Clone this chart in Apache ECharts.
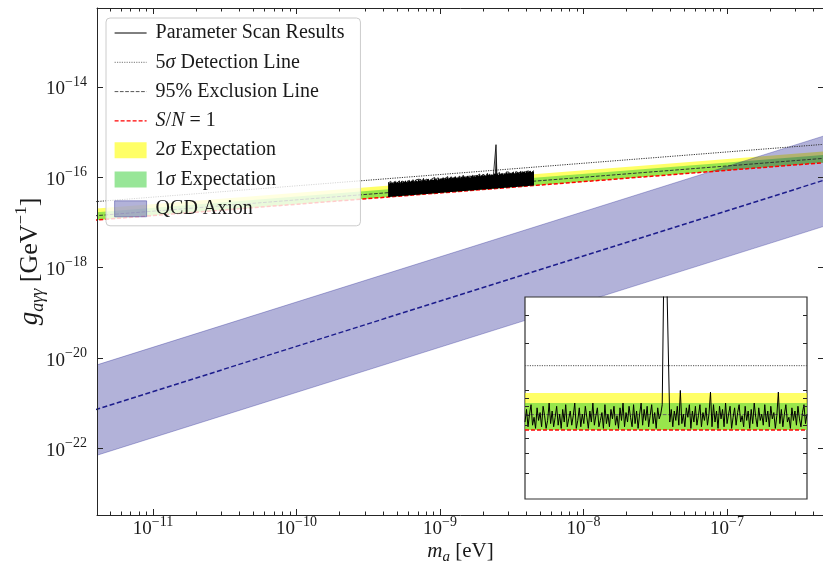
<!DOCTYPE html>
<html><head><meta charset="utf-8">
<script src="https://cdn.jsdelivr.net/npm/echarts@6/dist/echarts.min.js"></script>
<style>html,body{margin:0;padding:0;background:#fff}#c{width:823px;height:572px}</style>
</head><body><div id="c"></div>
<script>
// ---------------- data ----------------
// straight (log-log) reference lines, given at their two end masses
const lineMass     = [1e-12, 1e-6];          // eV
const detect5Sigma = [2.05e-17, 6.47e-16];   // GeV^-1
const exclusion95  = [1.00e-17, 3.17e-16];
const snOne        = [8.02e-18, 2.54e-16];
const sigma2Upper  = [1.43e-17, 4.52e-16];
const sigma1Upper  = [1.19e-17, 3.75e-16];
// QCD axion band
const qcdMass   = [1e-12, 1e-6];
const qcdUpper  = [1.74e-21, 1.74e-15];
const qcdCenter = [1.82e-22, 1.82e-16];
const qcdLower  = [1.74e-23, 1.74e-17];
// parameter scan: mass range and excess above S/N=1 (decades)
const scanMassRange = [4.35e-10, 4.52e-9];
const scanExcess = [
0.31,0.33,0.29,0.34,0.30,0.32,0.28,0.33,0.31,0.35,
0.29,0.32,0.30,0.34,0.28,0.31,0.33,0.29,0.32,0.30,
0.34,0.31,0.28,0.33,0.30,0.35,0.29,0.32,0.31,0.34,
0.30,0.28,0.33,0.31,0.29,0.34,0.32,0.30,0.33,0.28,
0.31,0.35,0.30,0.32,0.29,0.33,0.31,0.34,0.28,0.32,
0.30,0.33,0.29,0.31,0.35,0.30,0.32,0.28,0.34,0.31,
0.29,0.33,0.30,0.32,0.34,0.29,0.31,0.33,0.30,0.35,
0.28,0.32,0.31,0.34,0.29,0.33,0.30,0.32,0.35,0.31,
0.29,0.33,0.30,0.34,0.28,0.32,0.31,0.35,0.30,0.33,
0.29,0.31,0.34,0.30,0.32,0.28,0.33,0.31,0.35,0.30,
0.32,0.29,0.34,0.31,0.33,0.30,0.35,0.28,0.32,0.31,
0.34,0.30,0.33,0.29,0.31,0.35,0.30,0.32,0.34,0.29,
0.33,0.31,0.30,0.34,0.32,0.97,0.31,0.33,0.29,0.35,
0.30,0.32,0.34,0.31,0.29,0.33,0.30,0.35,0.32,0.31,
0.34,0.29,0.33,0.30,0.32,0.35,0.31,0.28,0.34,0.30,
0.33,0.31,0.29,0.35,0.32,0.30,0.34,0.31,0.33,0.29,
0.32,0.35,0.30,0.33,0.31,0.34,0.29,0.32,0.30,0.33];
// inset (zoom around the candidate): levels and scan excess above S/N=1 (decades)
const insetSnOne = 5.64e-17, insetExcl95 = 7.05e-17, insetSigma1 = 8.34e-17,
      insetSigma2 = 9.66e-17, insetDetect5 = 1.44e-16;
const insetYRange = [2.06e-17, 3.92e-16];
const insetExcess = [
0.05,0.13,0.02,0.10,0.16,0.03,0.08,0.01,0.14,0.06,
0.11,0.02,0.15,0.09,0.01,0.06,0.17,0.04,0.12,0.02,
0.08,0.15,0.03,0.10,0.01,0.13,0.05,0.16,0.02,0.07,
0.12,0.03,0.09,0.17,0.01,0.06,0.14,0.02,0.10,0.04,
0.15,0.08,0.01,0.12,0.05,0.17,0.03,0.09,0.14,0.02,
0.06,0.11,0.01,0.16,0.04,0.10,0.02,0.13,0.07,0.15,
0.03,0.09,0.01,0.14,0.06,0.17,0.02,0.11,0.05,0.15,
0.08,0.02,0.16,0.04,0.12,0.01,0.10,0.17,0.03,0.13,
0.06,0.15,0.02,0.09,0.16,0.04,0.11,0.01,0.14,0.07,
0.10,0.16,0.97,0.97,0.97,0.97,0.05,0.13,0.02,0.12,
0.06,0.15,0.03,0.25,0.04,0.10,0.02,0.14,0.08,0.16,
0.01,0.12,0.05,0.15,0.03,0.09,0.16,0.02,0.11,0.06,
0.14,0.03,0.10,0.24,0.02,0.16,0.05,0.12,0.01,0.15,
0.07,0.13,0.02,0.17,0.04,0.10,0.15,0.01,0.08,0.14,
0.03,0.11,0.16,0.05,0.09,0.02,0.15,0.06,0.12,0.01,
0.13,0.04,0.17,0.08,0.02,0.14,0.06,0.10,0.03,0.16,
0.05,0.12,0.02,0.15,0.07,0.11,0.01,0.09,0.24,0.04,
0.13,0.02,0.10,0.16,0.05,0.08,0.01,0.14,0.06,0.12,
0.03,0.15,0.07,0.02,0.11,0.16,0.04,0.10];
const insetTickValues = [3e-17,4e-17,5e-17,6e-17,7e-17,8e-17,9e-17,1e-16,2e-16,3e-16];
// axes
const xRangeMass = [4.074e-12, 4.742e-7];
const yRangeG = [3.38e-24, 5.57e-13];
const xTickExp = [-11,-10,-9,-8,-7];
const yTickExp = [-14,-16,-18,-20,-22];

// ---------------- build ----------------
const lg = Math.log10;
const SERIF = "'Liberation Serif','Times New Roman',serif";
const INK = '#1a1a1a';
const AX = {color:'#262626', width:1};

function pts(ms, vs){ return ms.map((m,i)=>[lg(m), lg(vs[i])]); }
function onLine(ms, vs, m){ // the straight log-log line through the two read points
  const a=lg(ms[0]), b=lg(ms[1]); return lg(vs[0]) + (lg(vs[1])-lg(vs[0]))*(lg(m)-a)/(b-a);
}
const xMin=lg(xRangeMass[0]), xMax=lg(xRangeMass[1]);
const yMin=lg(yRangeG[0]), yMax=lg(yRangeG[1]);
const xMinor=[];
for(let e=-12;e<=-7;e++) for(let k=2;k<=9;k++){ const v=e+lg(k); if(v>xMin&&v<xMax) xMinor.push(v); }

const nScan = scanExcess.length;
const scanMass = scanExcess.map((_,i)=>10**(lg(scanMassRange[0])+(lg(scanMassRange[1])-lg(scanMassRange[0]))*i/(nScan-1)));
const scanBase = scanMass.map(m=>onLine(lineMass, snOne, m));
const scanTop = scanBase.map((b,i)=>b+scanExcess[i]);
const nIn = insetExcess.length;

// a filled region between two curves, drawn through the axes' own scales (api.coord)
function fillSeries(name, rows, color, z, xi, yi, stroke){
  return {type:'custom', name, silent:true, xAxisIndex:xi, yAxisIndex:yi, z, color,
    data: rows, encode:{x:0, y:[1,2]},
    renderItem(params, api){
      if (params.dataIndex !== 0) return null;
      const top = rows.map(r=>api.coord([r[0], r[2]]));
      const bot = rows.map(r=>api.coord([r[0], r[1]])).reverse();
      const cs = params.coordSys;
      return {type:'polygon', shape:{points: top.concat(bot)},
        style:{fill: color, stroke: stroke || null, lineWidth: stroke ? 1 : 0},
        clipPath:{type:'rect', shape:{x:cs.x, y:cs.y, width:cs.width, height:cs.height}}};
    }};
}
const band = (ms, lo, hi) => ms.map((m,i)=>[lg(m), lg(lo[i]), lg(hi[i])]);

const M = {type:'line', symbol:'none', silent:true, xAxisIndex:0, yAxisIndex:0};
const I = {type:'line', symbol:'none', silent:true, xAxisIndex:4, yAxisIndex:2};
const YEL='rgba(255,255,0,0.6)', GRN='rgba(50,205,50,0.5)', QCD='rgba(0,0,128,0.3)';
const flat = v => [[0, lg(v)], [nIn-1, lg(v)]];
const flatBand = (lo, hi) => [[0, lg(lo), lg(hi)], [nIn-1, lg(lo), lg(hi)]];

const series = [
  fillSeries('2σ Expectation', band(lineMass, snOne, sigma2Upper), YEL, 2, 0, 0),
  fillSeries('1σ Expectation', band(lineMass, snOne, sigma1Upper), GRN, 3, 0, 0),
  fillSeries('QCD Axion', band(qcdMass, qcdLower, qcdUpper), QCD, 4, 0, 0, 'rgba(0,0,128,0.28)'),
  {...M, name:'_qc', data:pts(qcdMass, qcdCenter), lineStyle:{color:'#1c1c8c', width:1.5, type:[5,2.5]}, z:5},
  {...M, name:'5σ Detection Line', color:'#333', data:pts(lineMass, detect5Sigma), lineStyle:{color:'#333', width:1, type:[1.2,1.2]}, z:5},
  {...M, name:'95% Exclusion Line', color:'#333', data:pts(lineMass, exclusion95), lineStyle:{color:'#333', width:1, type:[3.7,1.6]}, z:5},
  {...M, name:'S/N = 1', color:'#ff0000', data:pts(lineMass, snOne), lineStyle:{color:'#ff0000', width:1.5, type:[4,2]}, z:5},
  fillSeries('_scanfill', scanMass.map((m,i)=>[lg(m), scanBase[i], scanTop[i]]), '#000', 6, 0, 0),
  {...M, name:'Parameter Scan Results', color:'#000', data:scanMass.map((m,i)=>[lg(m), scanTop[i]]), lineStyle:{color:'#000', width:0.8}, z:6},
  // inset
  fillSeries('_i2', flatBand(insetSnOne, insetSigma2), YEL, 11, 4, 2),
  fillSeries('_i1', flatBand(insetSnOne, insetSigma1), GRN, 12, 4, 2),
  {...I, name:'_i5', data:flat(insetDetect5), lineStyle:{color:'#555', width:1, type:[1.2,1.2]}, z:13},
  {...I, name:'_i95', data:flat(insetExcl95), lineStyle:{color:'#666', width:1, type:[3.7,1.6]}, z:13},
  {...I, name:'_isn', data:flat(insetSnOne), lineStyle:{color:'#ff0000', width:1.5, type:[4,2]}, z:13},
  {...I, name:'_iscan', data:insetExcess.map((e,i)=>[i, lg(insetSnOne)+e]), lineStyle:{color:'#000', width:1}, z:14}
];

const tickRich = {
  b:{fontFamily:SERIF, fontSize:19, color:INK, lineHeight:24, verticalAlign:'bottom'},
  e:{fontFamily:SERIF, fontSize:14, color:INK, lineHeight:14, verticalAlign:'top'}
};
const tickFmt = v => '{b|10}{e|\u2212' + Math.abs(Math.round(v)) + '}';
const noSplit = {show:false};

const xAxis = [
  {type:'value', gridIndex:0, position:'bottom', min:xMin, max:xMax, z:8, splitLine:noSplit,
   axisLine:{show:true, onZero:false, lineStyle:AX},
   axisTick:{show:true, inside:true, length:6, customValues:xTickExp, lineStyle:AX},
   axisLabel:{show:true, customValues:xTickExp, margin:0, formatter:tickFmt, rich:tickRich},
   name:'{i|m}{sub|a} [eV]', nameLocation:'middle', nameGap:22, nameMoveOverlap:false,
   nameTextStyle:{fontFamily:SERIF, fontSize:21, color:INK, lineHeight:28,
     rich:{i:{fontFamily:SERIF, fontStyle:'italic', fontSize:21, color:INK, lineHeight:28},
           sub:{fontFamily:SERIF, fontStyle:'italic', fontSize:15, color:INK, lineHeight:14, verticalAlign:'bottom'}}}},
  {type:'value', gridIndex:0, position:'bottom', min:xMin, max:xMax, z:8, splitLine:noSplit,
   axisLine:{show:false, onZero:false}, axisLabel:{show:false},
   axisTick:{show:true, inside:true, length:3.5, customValues:xMinor, lineStyle:AX}},
  {type:'value', gridIndex:0, position:'top', min:xMin, max:xMax, z:8, splitLine:noSplit,
   axisLine:{show:true, onZero:false, lineStyle:AX}, axisLabel:{show:false},
   axisTick:{show:true, inside:true, length:6, customValues:xTickExp, lineStyle:AX}},
  {type:'value', gridIndex:0, position:'top', min:xMin, max:xMax, z:8, splitLine:noSplit,
   axisLine:{show:false, onZero:false}, axisLabel:{show:false},
   axisTick:{show:true, inside:true, length:3.5, customValues:xMinor, lineStyle:AX}},
  {type:'value', gridIndex:1, min:0, max:nIn-1, show:false, splitLine:noSplit}
];
const inTicks = insetTickValues.map(v=>lg(v));
const yAxis = [
  {type:'value', gridIndex:0, position:'left', min:yMin, max:yMax, z:8, splitLine:noSplit,
   axisLine:{show:true, onZero:false, lineStyle:AX},
   axisTick:{show:true, inside:true, length:6, customValues:yTickExp, lineStyle:AX},
   axisLabel:{show:true, customValues:yTickExp, margin:10, formatter:tickFmt, rich:tickRich},
   name:'{i|g}{sub|aγγ} [GeV{sup|\u22121}]', nameLocation:'middle', nameGap:50, nameRotate:90, nameMoveOverlap:false,
   nameTextStyle:{fontFamily:SERIF, fontSize:26, color:INK, lineHeight:34,
     rich:{i:{fontFamily:SERIF, fontStyle:'italic', fontSize:27, color:INK, lineHeight:34},
           sub:{fontFamily:SERIF, fontStyle:'italic', fontSize:18, color:INK, lineHeight:17, verticalAlign:'bottom'},
           sup:{fontFamily:SERIF, fontSize:17, color:INK, lineHeight:17, verticalAlign:'top'}}}},
  {type:'value', gridIndex:0, position:'right', min:yMin, max:yMax, z:8, splitLine:noSplit,
   axisLine:{show:true, onZero:false, lineStyle:AX}, axisLabel:{show:false},
   axisTick:{show:true, inside:true, length:6, customValues:yTickExp, lineStyle:AX}},
  {type:'value', gridIndex:1, position:'left', min:lg(insetYRange[0]), max:lg(insetYRange[1]), z:15, splitLine:noSplit,
   axisLine:{show:false, onZero:false}, axisLabel:{show:false},
   axisTick:{show:true, inside:true, length:4, customValues:inTicks, lineStyle:AX}},
  {type:'value', gridIndex:1, position:'right', min:lg(insetYRange[0]), max:lg(insetYRange[1]), z:15, splitLine:noSplit,
   axisLine:{show:false, onZero:false}, axisLabel:{show:false},
   axisTick:{show:true, inside:true, length:4, customValues:inTicks, lineStyle:AX}}
];

const legendLabels = {
  'Parameter Scan Results':'Parameter Scan Results',
  '5σ Detection Line':'5{i|σ} Detection Line',
  '95% Exclusion Line':'95% Exclusion Line',
  'S/N = 1':'{i|S}/{i|N} = 1',
  '2σ Expectation':'2{i|σ} Expectation',
  '1σ Expectation':'1{i|σ} Expectation',
  'QCD Axion':'QCD Axion'
};

const chart = echarts.init(document.getElementById('c'), null, {renderer:'canvas'});
chart.setOption({
  animation:false,
  backgroundColor:'#ffffff',
  grid:[
    {left:97, top:8, right:-1, bottom:57, containLabel:false, outerBoundsMode:'none'},
    {left:525, top:297, width:282, height:202, containLabel:false, outerBoundsMode:'none',
     show:true, backgroundColor:'#ffffff', borderColor:'#333', borderWidth:1.2, z:10}
  ],
  xAxis, yAxis,
  legend:{
    orient:'vertical', left:106, top:18, z:20, selectedMode:false,
    padding:[5,16,7,8], itemGap:9.3, itemWidth:32, itemHeight:16,
    backgroundColor:'rgba(255,255,255,0.8)', borderColor:'#cccccc', borderWidth:1, borderRadius:4,
    textStyle:{fontFamily:SERIF, fontSize:20, color:INK, lineHeight:20, padding:[0,0,0,4],
      rich:{i:{fontFamily:SERIF, fontStyle:'italic', fontSize:20, color:INK, lineHeight:20}}},
    formatter:n=>legendLabels[n],
    data:[
      {name:'Parameter Scan Results', itemStyle:{opacity:0}, lineStyle:{width:1}},
      {name:'5σ Detection Line', itemStyle:{opacity:0}, lineStyle:{width:1, color:'#777'}},
      {name:'95% Exclusion Line', itemStyle:{opacity:0}, lineStyle:{width:1, color:'#555'}},
      {name:'S/N = 1', itemStyle:{opacity:0}, lineStyle:{width:1.2}},
      {name:'2σ Expectation', icon:'rect', itemStyle:{color:YEL, opacity:1, borderWidth:0}},
      {name:'1σ Expectation', icon:'rect', itemStyle:{color:GRN, opacity:1, borderWidth:0}},
      {name:'QCD Axion', icon:'rect', itemStyle:{color:QCD, opacity:1, borderColor:'rgba(0,0,128,0.35)', borderWidth:1}}
    ]
  },
  series
});
</script></body></html>
